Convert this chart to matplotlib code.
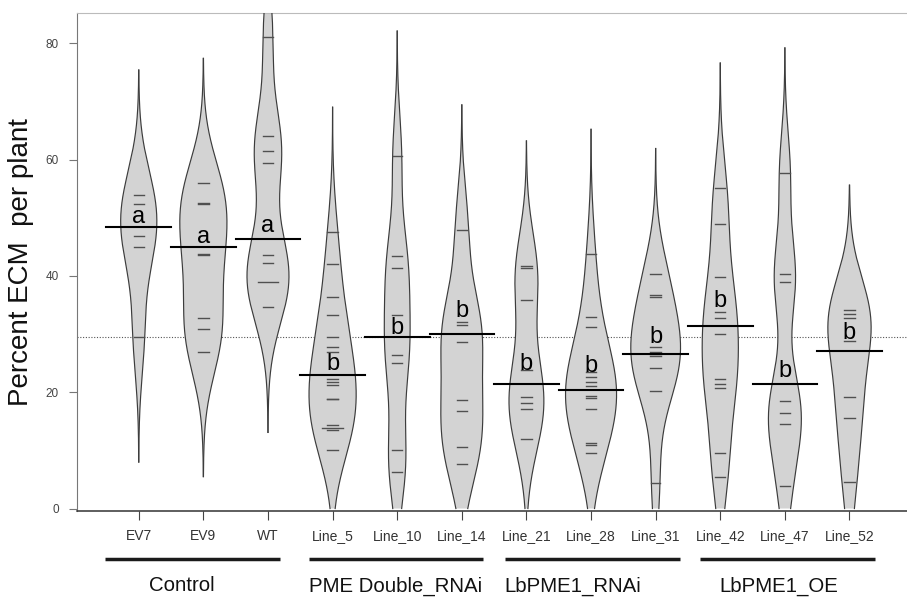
import numpy as np
import matplotlib
matplotlib.use("Agg")
import matplotlib.pyplot as plt
import matplotlib.transforms as mtransforms

groups = ["EV7", "EV9", "WT", "Line_5", "Line_10", "Line_14",
          "Line_21", "Line_28", "Line_31", "Line_42", "Line_47", "Line_52"]

ev7 = [53.9, 52.4, 46.9, 44.9, 29.5]
ev9 = [55.9, 52.5, 52.3, 43.8, 43.6, 32.7, 30.8, 27.0]
wt = [81.1, 64.1, 61.4, 59.5, 43.6, 42.3, 38.9, 38.9, 34.6]
line_5 = [47.5, 42.0, 36.3, 33.2, 29.5, 27.7, 27.0, 22.3, 21.8, 21.2,
          18.9, 18.8, 14.4, 13.8, 13.8, 13.5, 10.1]
line_10 = [60.6, 43.5, 41.4, 33.3, 26.4, 25.0, 10.1, 6.3]
line_14 = [47.9, 32.1, 31.6, 28.6, 18.7, 16.8, 10.5, 7.6]
line_21 = [41.7, 41.3, 35.9, 23.8, 19.1, 18.2, 17.2, 11.9]
line_28 = [43.7, 33.0, 31.2, 23.5, 22.6, 21.8, 21.1, 19.4, 19.05, 17.1,
           11.3, 10.9, 9.6]
line_31 = [40.4, 36.7, 36.3, 27.7, 27.0, 26.5, 26.3, 24.1, 20.2, 4.4]
line_42 = [55.1, 48.9, 39.9, 33.8, 32.7, 30.1, 22.3, 21.5, 20.8, 9.5, 5.4]
line_47 = [57.7, 40.3, 39.0, 18.5, 16.4, 14.5, 3.8]
line_52 = [34.1, 33.4, 32.7, 28.8, 19.1, 15.5, 4.6]

bean_data = [ev7, ev9, wt, line_5, line_10, line_14,
             line_21, line_28, line_31, line_42, line_47, line_52]
bean_means = [48.5, 44.9, 46.3, 23.0, 29.5, 30.1, 21.4, 20.4, 26.5, 31.4, 21.5, 27.1]
overall_mean = 29.5

letters = ["a", "a", "a", "b", "b", "b", "b", "b", "b", "b", "b", "b"]
letter_y = [49.1, 45.6, 47.6, 23.9, 30.1, 32.9, 23.9, 23.4, 28.4, 34.7, 22.7, 29.1]

group_names = ["Control", "PME Double_RNAi", "LbPME1_RNAi", "LbPME1_OE"]
group_spans = [(0.48, 3.18), (3.63, 6.33), (6.67, 9.37), (9.69, 12.39)]
group_label_x = [1.67, 4.98, 7.72, 10.9]

# widest point of each bean as drawn (x units)
bean_widths = [0.56, 0.73, 0.65, 0.73, 0.40, 0.65, 0.54, 0.79, 0.77, 0.56, 0.51, 0.67]

bw = 7.17
fill_col = "#d3d3d3"

plt.rcParams["font.family"] = ["Liberation Sans", "DejaVu Sans"]


def kde(data, grid):
    d = np.asarray(data)[:, None]
    z = (grid[None, :] - d) / bw
    return np.exp(-0.5 * z ** 2).sum(axis=0) / (len(data) * bw * np.sqrt(2 * np.pi))


fig = plt.figure(figsize=(9.07, 5.98), dpi=100)
ax = fig.add_axes([0.0846, 0.1463, 0.9154, 0.8314])

xs = np.arange(1, len(groups) + 1)

ax.axhline(overall_mean, color="#555555", lw=0.8, ls=(0, (1, 1.5)), zorder=1)

for x, vals, width, m, let, ly in zip(xs, bean_data, bean_widths, bean_means,
                                      letters, letter_y):
    grid = np.linspace(max(0.0, min(vals) - 3 * bw), max(vals) + 3 * bw, 400)
    dens = kde(vals, grid)
    half = dens / dens.max() * width / 2
    ax.fill_betweenx(grid, x - half, x + half, facecolor=fill_col,
                     edgecolor="none", zorder=2)
    ax.plot(x - half, grid, color="#3c3c3c", lw=0.85, zorder=3)
    ax.plot(x + half, grid, color="#3c3c3c", lw=0.85, zorder=3)
    # beanlines, longer when values repeat
    uniq, counts = np.unique(vals, return_counts=True)
    for v, n in zip(uniq, counts):
        w = min(0.08 * n, np.interp(v, grid, half))
        ax.plot([x - w, x + w], [v, v], color="#505050", lw=1.0, zorder=4)
    ax.plot([x - 0.5, x + 0.5], [m, m], color="black", lw=1.5, zorder=5)
    ax.text(x, ly, let, ha="center", va="baseline", fontsize=17,
            color="black", zorder=6)

ax.set_xlim(0.04, 12.89)
ax.set_ylim(-0.34, 85.16)

ax.set_yticks([0, 20, 40, 60, 80])
ax.set_xticks(xs)
ax.set_xticklabels(groups, fontsize=10)
ax.tick_params(axis="y", direction="out", length=6, width=0.8, color="#777777",
               labelcolor="#444444", labelsize=8.5, pad=7)
ax.tick_params(axis="x", direction="out", length=6.5, width=0.8, color="#444444",
               labelcolor="#333333", pad=7)

ax.spines["right"].set_visible(False)
ax.spines["top"].set_color("#bbbbbb")
ax.spines["left"].set_color("#777777")
ax.spines["bottom"].set_color("#333333")
ax.spines["bottom"].set_linewidth(1.1)

ax.set_ylabel("Percent ECM  per plant", fontsize=20, color="#111111")
ax.yaxis.set_label_coords(-0.051, 0.5)

# treatment groups under the axis
trans = mtransforms.blended_transform_factory(ax.transData, fig.transFigure)
for name, (a, b), lx in zip(group_names, group_spans, group_label_x):
    ax.plot([a, b], [0.0652, 0.0652], transform=trans, color="#1a1a1a",
            lw=2.5, clip_on=False, solid_capstyle="butt")
    ax.text(lx, 0.0201, name, transform=trans, ha="center", va="center",
            fontsize=14.7, color="#111111")

fig.savefig("out.png", dpi=100)
